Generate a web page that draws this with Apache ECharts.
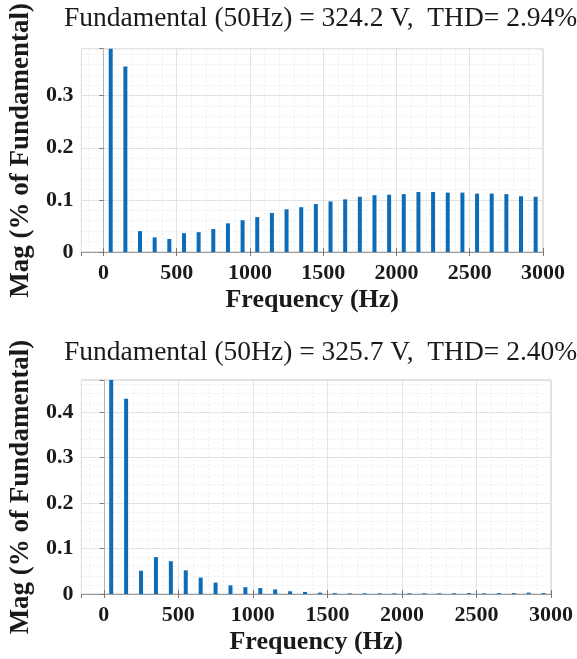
<!DOCTYPE html>
<html>
<head>
<meta charset="utf-8">
<script src="https://cdn.jsdelivr.net/npm/echarts@6/dist/echarts.min.js"></script>
<style>
html,body{margin:0;padding:0;background:#fff;}
#c{width:577px;height:659px;}
</style>
</head>
<body>
<div id="c"></div>
<script>
// Harmonic frequencies (Hz)
const freqs = [50,150,250,350,450,550,650,750,850,950,1050,1150,1250,1350,1450,1550,1650,1750,1850,1950,2050,2150,2250,2350,2450,2550,2650,2750,2850,2950];
// Top spectrum magnitudes (% of fundamental); fundamental = 100 (clipped)
const magTop = [100,0.356,0.040,0.028,0.025,0.036,0.038,0.044,0.055,0.061,0.067,0.075,0.082,0.086,0.092,0.097,0.101,0.106,0.109,0.110,0.111,0.115,0.115,0.114,0.114,0.112,0.112,0.111,0.107,0.106];
// Bottom spectrum magnitudes
const magBottom = [100,0.429,0.051,0.081,0.072,0.052,0.036,0.025,0.019,0.015,0.013,0.010,0.006,0.0045,0.003,0.002,0.0015,0.0015,0.0015,0.0015,0.0015,0.0015,0.0015,0.0015,0.002,0.0015,0.002,0.002,0.003,0.002];
const titles = ['Fundamental (50Hz) = 324.2 V,  THD= 2.94%', 'Fundamental (50Hz) = 325.7 V,  THD= 2.40%'];
const yMax = [0.39, 0.47];
const xMin = -150, xMax = 3000;

const serif = 'Liberation Serif';
const barColor = '#0d6cb8';

const grids = [
  {left: 76, top: 41, width: 467, height: 211},
  {left: 77, top: 380, width: 474, height: 214}
];

function mainX(gi){
  return {
    type: 'value', gridIndex: gi, min: xMin, max: xMax, splitNumber: 6,
    name: 'Frequency (Hz)', nameLocation: 'middle', nameGap: 35,
    nameTextStyle: {fontFamily: serif, fontWeight: 'bold', fontSize: 26, color: '#1a1a1a'},
    axisLine: {show: true, lineStyle: {color: '#9a9a9a', width: 1}},
    axisTick: {show: true, inside: true, length: 4, lineStyle: {color: '#777'}},
    minorTick: {show: false, splitNumber: 5},
    axisLabel: {showMinLabel: false, margin: 10, fontFamily: serif, fontWeight: 'bold', fontSize: 22, color: '#1a1a1a',
      formatter: v => (v < 0 ? '' : String(v))},
    splitLine: {show: true, lineStyle: {color: '#e2e2e2', width: 1}},
    minorSplitLine: {show: true, lineStyle: {color: '#eeeeee', width: 1, type: [2,2]}}
  };
}
function topX(gi){
  return {
    type: 'value', gridIndex: gi, min: xMin, max: xMax, splitNumber: 6, position: 'top',
    axisLine: {show: false}, axisLabel: {show: false}, splitLine: {show: false},
    axisTick: {show: true, inside: true, length: 4, lineStyle: {color: '#777'}}
  };
}
function mainY(gi){
  return {
    type: 'value', gridIndex: gi, min: 0, max: yMax[gi], interval: 0.1,
    name: 'Mag (% of Fundamental)', nameLocation: 'middle', nameGap: 41,
    nameTextStyle: {fontFamily: serif, fontWeight: 'bold', fontSize: 27, color: '#1a1a1a'},
    axisLine: {show: true, lineStyle: {color: '#b5b5b5', width: 1}},
    axisTick: {show: false},
    minorTick: {show: false, splitNumber: 5},
    axisLabel: {showMaxLabel: false, margin: 8, fontFamily: serif, fontWeight: 'bold', fontSize: 22, color: '#1a1a1a'},
    splitLine: {show: true, lineStyle: {color: '#e2e2e2', width: 1}},
    minorSplitLine: {show: true, lineStyle: {color: '#eeeeee', width: 1, type: [2,2]}}
  };
}
function rightY(gi){
  return {
    type: 'value', gridIndex: gi, min: 0, max: yMax[gi], interval: 0.1, position: 'right',
    axisLine: {show: false}, axisLabel: {show: false}, splitLine: {show: false},
    axisTick: {show: true, inside: true, length: 4, lineStyle: {color: '#777'}}
  };
}

const chart = echarts.init(document.getElementById('c'), null, {renderer: 'canvas'});
chart.setOption({
  backgroundColor: '#fff',
  animation: false,
  title: [
    {text: titles[0], left: 59, top: 0, textStyle: {fontFamily: serif, fontWeight: 'normal', fontSize: 27.5, color: '#1a1a1a'}},
    {text: titles[1], left: 59, top: 334, textStyle: {fontFamily: serif, fontWeight: 'normal', fontSize: 27.5, color: '#1a1a1a'}}
  ],
  grid: grids.map(g => Object.assign({show: true, borderColor: '#c8c8c8', borderWidth: 1, backgroundColor: '#fff'}, g)),
  xAxis: [mainX(0), mainX(1), topX(0), topX(1)],
  yAxis: [mainY(0), mainY(1), rightY(0), rightY(1)],
  series: [
    {type: 'bar', xAxisIndex: 0, yAxisIndex: 0, barWidth: 4, clip: true,
     itemStyle: {color: barColor}, data: freqs.map((f, i) => [f, magTop[i]])},
    {type: 'bar', xAxisIndex: 1, yAxisIndex: 1, barWidth: 4, clip: true,
     itemStyle: {color: barColor}, data: freqs.map((f, i) => [f, magBottom[i]])}
  ]
});
</script>
</body>
</html>
